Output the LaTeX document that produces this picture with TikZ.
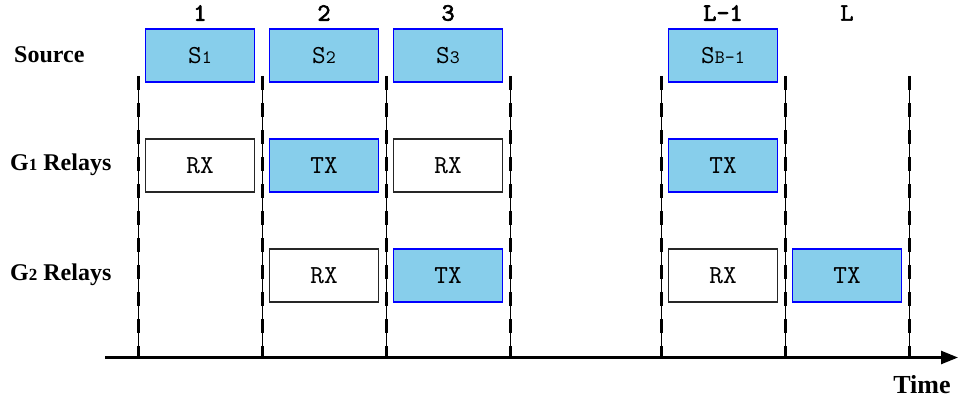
\documentclass[tikz,border=0pt]{standalone}
\usepackage{fontspec}
\setmainfont{Liberation Serif}
\newfontfamily\monoreg{lmmono10-regular}[Extension=.otf]
\newfontfamily\monobold{lmmono10-regular}[Extension=.otf, FakeBold=2.5]
\usetikzlibrary{arrows.meta}
\definecolor{skyb}{RGB}{135,206,235}
\begin{document}
\begin{tikzpicture}[x=1pt,y=-1pt,
  slot/.style={draw=black!85, line width=1.6pt, minimum width=109pt, minimum height=53pt, inner sep=0pt, font=\fontsize{26}{26}\selectfont\monoreg},
  busy/.style={slot, draw=blue, fill=skyb},
  rowlab/.style={font=\fontsize{24}{24}\selectfont\bfseries, anchor=west, inner sep=0pt},
  collab/.style={font=\fontsize{25}{25}\selectfont\monobold, inner sep=0pt},
  guide/.style={line width=0.7pt},
  guidedash/.style={line width=3pt, dash pattern=on 14pt off 13pt},
  axisline/.style={line width=2.5pt, -{Triangle[length=17pt,width=13pt]}}]
\useasboundingbox (0,0) rectangle (961,404);
% vertical guides
\foreach \i/\x in {0/138,1/262,2/386,3/510,4/661,5/785,6/909}{
  \coordinate (t\i) at (\x,76);
  \coordinate (b\i) at (\x,357);
  \draw[guide] (t\i) -- (b\i);
  \draw[guidedash] (t\i) -- (b\i);
}
% axis
\coordinate (ax0) at (105,357.5);
\coordinate (ax1) at (958,357.5);
\draw[axisline] (ax0) -- (ax1);
% column labels
\node[collab] (c1) at (200,13) {1};
\node[collab] (c2) at (324,13) {2};
\node[collab] (c3) at (448,13) {3};
\node[collab] (c4) at (723,13) {L-1};
\node[collab] (c5) at (847,13) {L};
% row labels
\node[rowlab] (lsrc) at (14,55) {Source};
\node[rowlab] (lg1) at (10,165) {G{\fontsize{17}{17}\selectfont 1} Relays};
\node[rowlab] (lg2) at (10,275) {G{\fontsize{17}{17}\selectfont 2} Relays};
\node[font=\fontsize{26}{26}\selectfont\bfseries, inner sep=0pt] (time) at (922,385) {Time};
% source row
\node[busy] (s1) at (200,55.5) {S{\fontsize{19}{19}\selectfont 1}};
\node[busy] (s2) at (324,55.5) {S{\fontsize{19}{19}\selectfont 2}};
\node[busy] (s3) at (448,55.5) {S{\fontsize{19}{19}\selectfont 3}};
\node[busy] (s4) at (723,55.5) {S{\fontsize{19}{19}\selectfont B-1}};
% G1 row
\node[slot] (g11) at (200,165.5) {RX};
\node[busy] (g12) at (324,165.5) {TX};
\node[slot] (g13) at (448,165.5) {RX};
\node[busy] (g14) at (723,165.5) {TX};
% G2 row
\node[slot] (g22) at (324,275.5) {RX};
\node[busy] (g23) at (448,275.5) {TX};
\node[slot] (g24) at (723,275.5) {RX};
\node[busy] (g25) at (847,275.5) {TX};
\end{tikzpicture}
\end{document}
